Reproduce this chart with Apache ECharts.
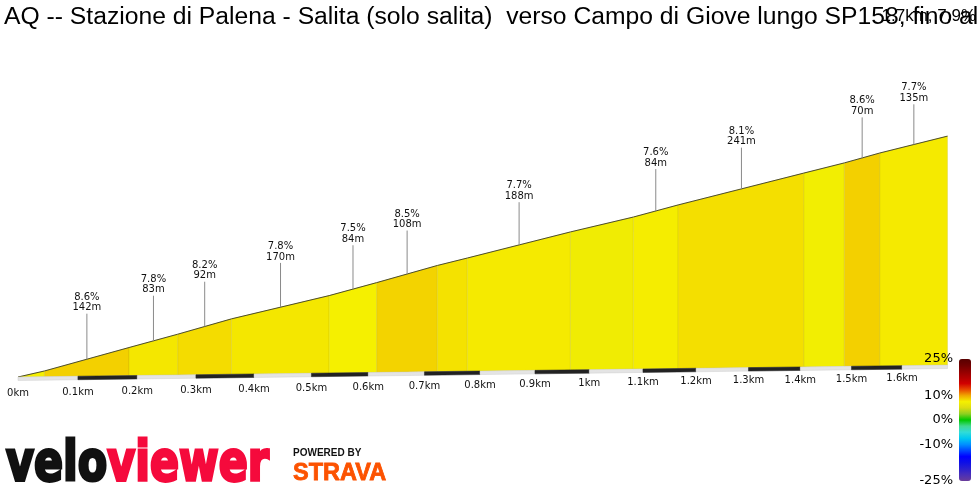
<!DOCTYPE html>
<html>
<head>
<meta charset="utf-8">
<script src="https://cdn.jsdelivr.net/npm/echarts@6/dist/echarts.min.js"></script>
<style>
html, body { margin: 0; padding: 0; background: #fff; }
#chart { width: 980px; height: 490px; }
</style>
</head>
<body>
<div id="chart"></div>
<script>
const distKm = [0, 0.044, 0.186, 0.269, 0.361, 0.531, 0.615, 0.723, 0.777, 0.965, 1.082, 1.166, 1.407, 1.486, 1.556, 1.691];
const elevM = [0, 3.3, 16.3, 23.7, 32.2, 45.0, 52.2, 61.7, 65.8, 80.2, 88.4, 95.1, 112.7, 118.3, 123.8, 133.1];
// pendenza di ogni tratto (%) -> colore
const gradePct = [7.4, 8.6, 7.8, 8.2, 7.8, 7.5, 8.5, 8.0, 7.7, 7.0, 7.6, 8.1, 7.2, 8.6, 7.7];

// etichette dei tratti: indice del tratto, pendenza, lunghezza
const labelBand = [1, 2, 3, 4, 5, 6, 8, 10, 11, 13, 14];
const labelGrade = ['8.6%', '7.8%', '8.2%', '7.8%', '7.5%', '8.5%', '7.7%', '7.6%', '8.1%', '8.6%', '7.7%'];
const labelLen = ['142m', '83m', '92m', '170m', '84m', '108m', '188m', '84m', '241m', '70m', '135m'];

// asse distanza
const tickKm = [0, 0.1, 0.2, 0.3, 0.4, 0.5, 0.6, 0.7, 0.8, 0.9, 1.0, 1.1, 1.2, 1.3, 1.4, 1.5, 1.6];
const tickLabels = ['0km', '0.1km', '0.2km', '0.3km', '0.4km', '0.5km', '0.6km', '0.7km', '0.8km', '0.9km', '1km', '1.1km', '1.2km', '1.3km', '1.4km', '1.5km', '1.6km'];

// legenda pendenza
const scaleValues = [25, 10, 0, -10, -25];
const scaleLabels = ['25%', '10%', '0%', '-10%', '-25%'];
const scaleColors = ['#6a3d9a', '#4a2fb8', '#2a1fd0', '#0e10e6', '#0000ff', '#0048ff', '#0090ff', '#00c8f0', '#30dcd8', '#40d890',
    '#00c800', '#8cd020', '#dcdc10', '#f5f000', '#f0a800', '#e84800', '#d00000', '#b00000', '#900000', '#700000', '#580000'];

const title = 'AQ -- Stazione di Palena - Salita (solo salita)  verso Campo di Giove lungo SP158, fino al';
const summary = '1.7km, 7.9%';

// griglia e "prospettiva" del profilo
const GL = 18, GT = 33, GW = 934, GH = 344;
const WARP = 0.0967;     // compressione verso destra
const TILT = 12 / 933;   // base leggermente inclinata
const BAR = { top: 359, h: 122, x: 959, w: 12 };

function proj(p) {
    const u = (p[0] - GL) / GW;
    const x = GL + GW * (u + WARP * u * (1 - u));
    return [x, p[1] - (x - GL) * TILT];
}

const bandData = gradePct.map((g, i) => [distKm[i], distKm[i + 1], elevM[i], elevM[i + 1], g]);
const labelData = labelBand.map((b, k) => [(distKm[b] + distKm[b + 1]) / 2, (elevM[b] + elevM[b + 1]) / 2, k]);
const stripeData = tickKm.map((t, i) => [t, i < tickKm.length - 1 ? tickKm[i + 1] : distKm[distKm.length - 1], i]);

const chart = echarts.init(document.getElementById('chart'));

const graphics = [
    { type: 'text', x: 4, y: 17, z: 10, style: { text: title, font: '24.7px "Liberation Sans"', fill: '#000', verticalAlign: 'middle' } },
    { type: 'text', x: 976, y: 16, z: 11, style: { text: summary, font: '17px "Liberation Sans"', fill: '#000', align: 'right', verticalAlign: 'middle' } },
    {
        type: 'text', x: 6, y: 465.5, scaleX: 0.78, z: 10,
        style: {
            text: '{a|velo}{b|viewer}', verticalAlign: 'middle',
            rich: {
                a: { font: 'bold 55px "DejaVu Sans"', fill: '#111', stroke: '#111', lineWidth: 3 },
                b: { font: 'bold 55px "DejaVu Sans"', fill: '#f50a3c', stroke: '#f50a3c', lineWidth: 3 }
            }
        }
    },
    { type: 'text', x: 293, y: 453, z: 10, style: { text: 'POWERED BY', font: 'bold 10px "Liberation Sans"', fill: '#111', verticalAlign: 'middle' } },
    { type: 'text', x: 293, y: 474, z: 10, style: { text: 'STRAVA', font: 'bold 23.5px "Liberation Sans"', fill: '#fc5200', stroke: '#fc5200', lineWidth: 0.8, verticalAlign: 'middle' } }
];
scaleValues.forEach((v, i) => {
    graphics.push({
        type: 'text', x: 953, y: BAR.top + (25 - v) / 50 * BAR.h, z: 10,
        style: { text: scaleLabels[i], font: '13px "DejaVu Sans"', fill: '#000', align: 'right', verticalAlign: 'middle' }
    });
});

chart.setOption({
    animation: false,
    grid: { left: GL, top: GT, width: GW, height: GH },
    xAxis: { type: 'value', min: 0, max: 1.7, show: false },
    yAxis: { type: 'value', min: 0, max: 200, show: false },
    visualMap: {
        type: 'continuous', seriesIndex: 0, dimension: 4, min: -25, max: 25,
        left: BAR.x, top: BAR.top, itemWidth: BAR.w, itemHeight: BAR.h, padding: 0,
        calculable: false, hoverLink: false,
        inRange: { color: scaleColors }
    },
    graphic: graphics,
    series: [
        {
            // tratti colorati
            type: 'custom', data: bandData, z: 2,
            renderItem(params, api) {
                const a = proj(api.coord([api.value(0), api.value(2)]));
                const b = proj(api.coord([api.value(1), api.value(3)]));
                const c = proj(api.coord([api.value(1), 0]));
                const d = proj(api.coord([api.value(0), 0]));
                return {
                    type: 'group', children: [
                        { type: 'polygon', shape: { points: [a, b, c, d] }, style: { fill: api.visual('color'), stroke: 'rgba(150,140,0,0.25)', lineWidth: 0.6 } },
                        { type: 'line', shape: { x1: a[0], y1: a[1], x2: b[0], y2: b[1] }, style: { stroke: '#4d4d2a', lineWidth: 1 } }
                    ]
                };
            }
        },
        {
            // etichette pendenza / lunghezza
            type: 'custom', data: labelData, z: 3,
            renderItem(params, api) {
                const p = proj(api.coord([api.value(0), api.value(1)]));
                const k = api.value(2);
                const u = (p[0] - GL) / GW;
                const L = 46 - 6 * u;
                const txt = { font: '10px "DejaVu Sans"', fill: '#111', align: 'center', verticalAlign: 'middle' };
                return {
                    type: 'group', children: [
                        { type: 'line', shape: { x1: p[0], y1: p[1], x2: p[0], y2: p[1] - L }, style: { stroke: '#8a8a8a', lineWidth: 1 } },
                        { type: 'text', x: p[0], y: p[1] - L - 16.5, style: Object.assign({ text: labelGrade[k] }, txt) },
                        { type: 'text', x: p[0], y: p[1] - L - 6, style: Object.assign({ text: labelLen[k] }, txt) }
                    ]
                };
            }
        },
        {
            // striscia chilometrica e etichette asse
            type: 'custom', data: stripeData, z: 3,
            renderItem(params, api) {
                const p0 = proj(api.coord([api.value(0), 0]));
                const p1 = proj(api.coord([api.value(1), 0]));
                const i = api.value(2);
                const u = (p0[0] - GL) / GW;
                return {
                    type: 'group', children: [
                        {
                            type: 'polygon',
                            shape: { points: [p0, p1, [p1[0], p1[1] + 3.5], [p0[0], p0[1] + 3.5]] },
                            style: { fill: i % 2 ? '#222' : '#e4e4e4', stroke: i % 2 ? '#222' : '#cfcfcf', lineWidth: 0.5 }
                        },
                        {
                            type: 'text', x: p0[0], y: p0[1] + 16 - 3.5 * u,
                            style: { text: tickLabels[i], font: '10px "DejaVu Sans"', fill: '#111', align: 'center', verticalAlign: 'middle' }
                        }
                    ]
                };
            }
        }
    ]
});
</script>
</body>
</html>
